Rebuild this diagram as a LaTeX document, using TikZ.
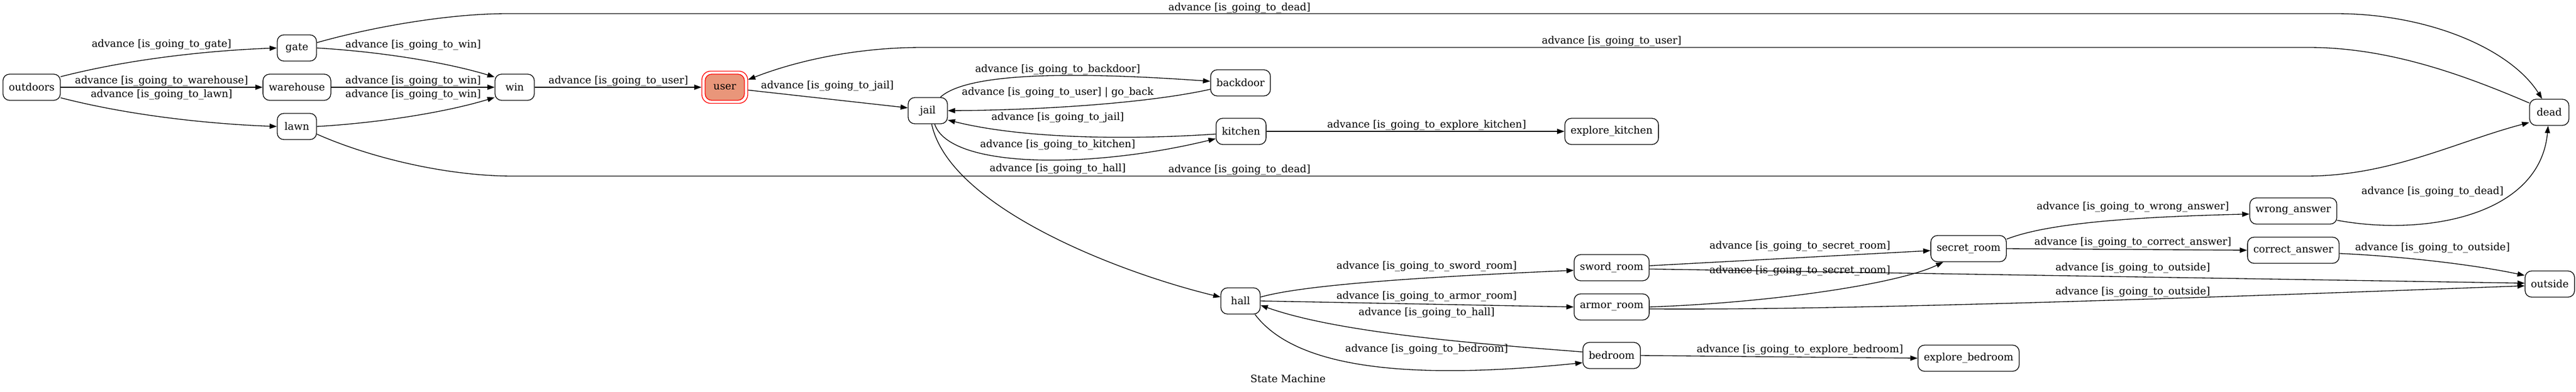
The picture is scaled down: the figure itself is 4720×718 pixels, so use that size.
\documentclass[tikz,border=0pt]{standalone}
\usepackage{fontspec}
\setmainfont{DejaVu Serif}
\usetikzlibrary{arrows.meta}
\definecolor{usersalmon}{HTML}{E9967A}
\newcommand{\gvfont}{\fontsize{14pt}{17pt}\selectfont}
\begin{document}
\begin{tikzpicture}[x=0.75pt,y=-0.75pt,
  st/.style={draw=black, line width=1pt, rounded corners=9pt, minimum width=54pt,
             minimum height=36pt, inner xsep=8pt, inner ysep=0pt, font=\gvfont},
  edge/.style={-{Triangle[length=10pt,width=7pt]}, line width=1pt},
  lbl/.style={inner sep=0pt, font=\gvfont}]
\useasboundingbox (0,0) rectangle (4720,718);

% states
\node[st] (outdoors) at (58,160) {outdoors};
\node[st] (gate) at (544,88) {gate};
\node[st] (warehouse) at (544,160) {warehouse};
\node[st] (lawn) at (544,232) {lawn};
\node[st] (win) at (943,160) {win};
\node[st, draw=red, minimum width=63pt, minimum height=44.25pt, rounded corners=12pt] (user) at (1328,160) {};
\node[st, draw=red, fill=usersalmon] (userin) at (1328,160) {user};
\node[st] (jail) at (1700,203) {jail};
\node[st] (backdoor) at (2273,152) {backdoor};
\node[st] (kitchen) at (2274,241) {kitchen};
\node[st] (explorekitchen) at (2953,241) {explore\_kitchen};
\node[st] (dead) at (4671,206) {dead};
\node[st] (hall) at (2273,552) {hall};
\node[st] (swordroom) at (2953,491) {sword\_room};
\node[st] (armorroom) at (2953,563) {armor\_room};
\node[st] (bedroom) at (2953,652) {bedroom};
\node[st] (secretroom) at (3607,456) {secret\_room};
\node[st] (explorebedroom) at (3607,657) {explore\_bedroom};
\node[st] (wronganswer) at (4202,387) {wrong\_answer};
\node[st] (correctanswer) at (4202,459) {correct\_answer};
\node[st] (outside) at (4672,521) {outside};

% edges
\draw[edge] (outdoors.20) .. controls (250,105) and (400,92) .. (gate.west);
\draw[edge] (outdoors.east) -- (warehouse.west);
\draw[edge] (outdoors.-20) .. controls (250,215) and (400,228) .. (lawn.west);
\draw[edge] (gate.east) .. controls (700,95) and (820,115) .. (win.153);
\draw[edge] (warehouse.east) -- (win.west);
\draw[edge] (lawn.east) .. controls (700,225) and (820,205) .. (win.207);
\draw[edge] (gate.15) .. controls (680,50) and (820,25) .. (930,25) -- (4280,25)
            .. controls (4450,25) and (4600,90) .. (dead.118);
\draw[edge] (lawn.-21) .. controls (680,290) and (820,323) .. (940,323) -- (4225,323)
            .. controls (4380,323) and (4500,260) .. (dead.207);
\draw[edge] (win.east) -- (user.west);
\draw[edge] (dead.155) .. controls (4520,140) and (4380,87) .. (4230,87) -- (1690,87)
            .. controls (1560,87) and (1450,115) .. (user.18);
\draw[edge] (user.-7) -- (jail.172);
\draw[edge] (jail.47) .. controls (1770,135) and (1950,130) .. (backdoor.177);
\draw[edge] (backdoor.192) .. controls (2100,190) and (1900,202) .. (jail.east);
\draw[edge] (kitchen.186) .. controls (2080,256) and (1880,256) .. (jail.-25);
\draw[edge] (jail.-63) .. controls (1740,310) and (2000,310) .. (kitchen.196);
\draw[edge] (jail.-74) .. controls (1740,380) and (2050,500) .. (hall.169);
\draw[edge] (kitchen.east) -- (explorekitchen.west);
\draw[edge] (hall.11) .. controls (2380,525) and (2560,510) .. (swordroom.184);
\draw[edge] (hall.east) -- (armorroom.west);
\draw[edge] (bedroom.173) .. controls (2700,630) and (2450,610) .. (hall.-12);
\draw[edge] (hall.-43) .. controls (2370,670) and (2560,700) .. (bedroom.194);
\draw[edge] (bedroom.east) -- (explorebedroom.west);
\draw[edge] (swordroom.3) -- (secretroom.183);
\draw[edge] (armorroom.east) .. controls (3250,555) and (3480,520) .. (secretroom.-152);
\draw[edge] (swordroom.-2) -- (outside.178);
\draw[edge] (armorroom.-3) .. controls (3400,570) and (4200,540) .. (outside.184);
\draw[edge] (secretroom.14) .. controls (3750,410) and (3900,398) .. (wronganswer.184);
\draw[edge] (secretroom.east) -- (correctanswer.west);
\draw[edge] (wronganswer.-12) .. controls (4445,434) and (4654,395) .. (dead.-95);
\draw[edge] (correctanswer.-4) .. controls (4400,470) and (4530,485) .. (outside.161);

% labels
\node[lbl] (l1) at (296,82) {advance [is\_going\_to\_gate]};
\node[lbl] (l2) at (296,149) {advance [is\_going\_to\_warehouse]};
\node[lbl] (l3) at (296,174) {advance [is\_going\_to\_lawn]};
\node[lbl] (l4) at (757,83) {advance [is\_going\_to\_win]};
\node[lbl] (l5) at (757,149) {advance [is\_going\_to\_win]};
\node[lbl] (l6) at (757,174) {advance [is\_going\_to\_win]};
\node[lbl] (l7) at (1133,149) {advance [is\_going\_to\_user]};
\node[lbl] (l8) at (2271,15) {advance [is\_going\_to\_dead]};
\node[lbl] (l9) at (2953,76) {advance [is\_going\_to\_user]};
\node[lbl] (l10) at (2271,312) {advance [is\_going\_to\_dead]};
\node[lbl] (l11) at (1516,158) {advance [is\_going\_to\_jail]};
\node[lbl] (l12) at (1938,128) {advance [is\_going\_to\_backdoor]};
\node[lbl] (l13) at (1938,170) {advance [is\_going\_to\_user] | go\_back};
\node[lbl] (l14) at (1938,216) {advance [is\_going\_to\_jail]};
\node[lbl] (l15) at (1938,266) {advance [is\_going\_to\_kitchen]};
\node[lbl] (l16) at (1938,310) {advance [is\_going\_to\_hall]};
\node[lbl] (l17) at (2614,230) {advance [is\_going\_to\_explore\_kitchen]};
\node[lbl] (l18) at (2614,489) {advance [is\_going\_to\_sword\_room]};
\node[lbl] (l19) at (2614,544) {advance [is\_going\_to\_armor\_room]};
\node[lbl] (l20) at (2614,574) {advance [is\_going\_to\_hall]};
\node[lbl] (l21) at (2614,641) {advance [is\_going\_to\_bedroom]};
\node[lbl] (l22) at (3298,642) {advance [is\_going\_to\_explore\_bedroom]};
\node[lbl] (l23) at (3298,452) {advance [is\_going\_to\_secret\_room]};
\node[lbl] (l24) at (3298,497) {advance [is\_going\_to\_secret\_room]};
\node[lbl] (l25) at (3908,380) {advance [is\_going\_to\_wrong\_answer]};
\node[lbl] (l26) at (3908,445) {advance [is\_going\_to\_correct\_answer]};
\node[lbl] (l27) at (3908,492) {advance [is\_going\_to\_outside]};
\node[lbl] (l28) at (3908,536) {advance [is\_going\_to\_outside]};
\node[lbl] (l29) at (4457,352) {advance [is\_going\_to\_dead]};
\node[lbl] (l30) at (4457,455) {advance [is\_going\_to\_outside]};
\node[lbl] (title) at (2360,695) {State Machine};
\end{tikzpicture}
\end{document}
